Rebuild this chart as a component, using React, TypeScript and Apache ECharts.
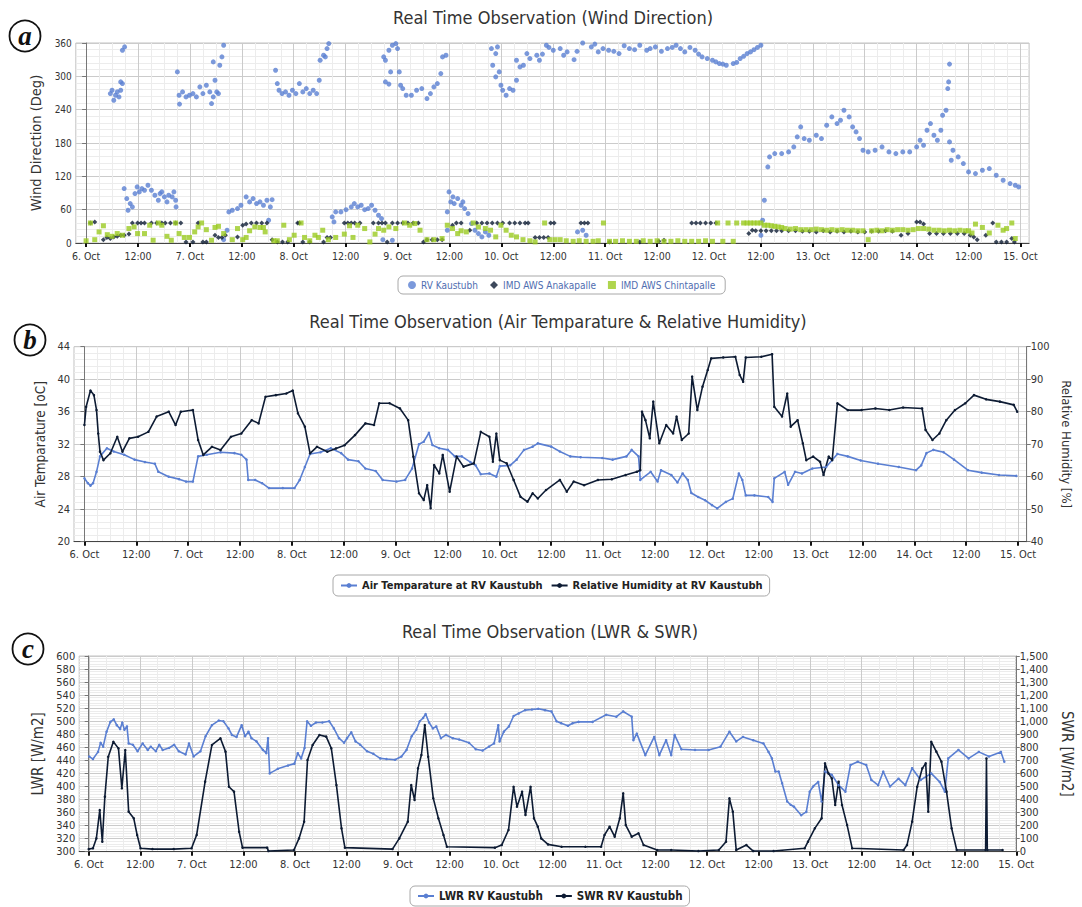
import React, { useEffect, useRef } from "react";
import * as echarts from "echarts";

// ---------- tick labels ----------
const DAY_LABELS = ["6. Oct", "7. Oct", "8. Oct", "9. Oct", "10. Oct", "11. Oct", "12. Oct", "13. Oct", "14. Oct", "15. Oct"];
const NOON_LABEL = "12:00";

// ---------- data: [hours since 6 Oct 00:00, value] ----------
const rvKaustubhWindDir: [number, number][] = [
  [5.6,269],[6,275],[6.4,257],[6.8,266],[7.2,272],[7.6,263],[8,275],[8,290],[8.4,287],[8.4,347],[8.9,353],
  [8.8,98],[9.4,80],[9.7,59],[10.2,71],[10.7,65],[11.3,89],[11.8,101],[12.3,92],[12.9,98],[13.5,95],[14.3,104],[15.1,95],[15.9,86],[16.7,77],[17.1,89],[17.5,92],[18.1,83],[18.7,74],[19.1,86],[19.9,83],[20.3,92],[20.7,77],[20.8,65],
  [21.1,308],[21.5,266],[21.6,250],[22.3,272],[23.1,263],[23.9,266],[24.7,269],[25.5,263],[26.3,281],[27,269],[27.8,284],[28.6,272],[29,251],[29.4,263],[29.8,293],[30.2,272],[30.6,269],[29.4,326],[30.9,320],[31.4,335],[31.8,356],
  [31.8,6],[32.6,23],[33,56],[33.8,59],[35,62],[35.8,68],[37,83],[37.8,74],[38.6,80],[39.4,71],[40.2,74],[41,68],[41.8,77],[42.6,65],[43,78],[42.2,41],
  [43.8,311],[44.2,287],[44.6,275],[45.3,269],[46.1,272],[46.9,266],[47.7,275],[48.5,269],[49.3,287],[50.1,272],[50.9,278],[51.7,269],[52.5,275],[53.3,269],[53.9,293],[54.1,329],[54.9,338],[55.3,335],[55.7,350],[56.1,359],
  [56.9,47],[57.3,38],[57.7,56],[58.9,56],[60.1,60],[61.3,65],[62,71],[62.8,65],[63.6,68],[64.4,60],[65.2,62],[66,68],[66.8,59],[67.6,50],[68.3,44],[68.6,6],[70.8,5],
  [68.8,335],[69.2,329],[70,347],[70.4,308],[70.8,356],[71.6,359],[72,350],[72.4,308],[69.2,290],[70,286],[72.7,284],[73.2,278],[74,266],[75.2,266],[76.4,275],[77.6,278],[78.8,260],[79.6,269],[80.4,281],[81.2,287],[82,305],[82.4,335],[83.2,338],
  [83.5,56],[83.9,92],[84.3,74],[84.8,83],[85.1,71],[85.9,80],[86.7,68],[87.1,74],[87.5,62],[88.3,53],[89.1,35],[89.9,23],[90.7,17],[91.5,11],[92.3,20],[93.1,14],[83.5,23],
  [93.7,350],[94.7,341],[95.1,353],[94,320],[94.7,299],[95.5,308],[95.9,284],[96.3,275],[97.1,266],[97.9,278],[98.7,275],[99.5,293],[99.5,329],[100.3,317],[101.1,320],[101.9,341],[102.6,332],[104.2,338],
  [104.8,329],[105.5,340],[106.4,356],[107,352],[108,347],[109.6,350],[110.4,338],[111.2,344],[112.8,330],[113.5,345],[114.8,360],[116.8,353],[117.6,358],[118.4,344],[119.5,350],[120.8,347],[122,345],[123.2,341],[124.4,355],[125.6,350],[126.8,348],[128,356],[129.6,347],[130.4,350],[131.6,353],[133,345],[134.4,350],[135.5,352],[136.4,356],[137.4,350],[138.4,344],[139.6,352],[140.8,347],[141.6,340],[142.4,335],[143.6,332],[144.8,329],[145.6,326],[146.4,323],[147.2,322],[148,320],[149.6,323],[150.4,325],[151.2,332],[152,336],[152.8,341],[153.6,344],[154.4,348],[155.2,352],[156,356],
  [113.6,20],[114.8,23],[115.6,14],
  [156.8,77],[156.4,41],[156,14],
  [157.6,137],[158,155],[159.2,161],[160.8,161],[162.4,164],[163.6,173],[164.4,191],[165.2,209],[166,188],[167.2,185],[168.8,194],[170,188],[171.2,212],[172.4,227],[173.6,215],[174.4,221],[175.2,239],[176.4,227],[177.2,209],[178,200],[178.8,188],[179.6,167],[180.8,164],[182.4,167],[184,173],[185.6,164],[187.2,161],[188.8,164],[190.4,164],[192,173],[192.8,185],[193.6,176],[194.4,203],[195.2,215],[196,194],[196.8,185],[197.6,203],[198,230],[198.8,239],[199.2,278],[199.4,290],[199.6,322],[199.6,182],[200,149],[200.4,167],[201.6,155],[202.8,143],[204,128],[205.6,125],[207.2,131],[208.8,134],[210.4,122],[212,113],[213.6,107],[214.8,104],[215.6,101],
];

const anakapalleWindDir: [number, number][] = [
  [1,36],[2,38],[4,6],[4.8,10],[5.6,8],[6.4,11],[7.2,12],[8,14],[8.8,14],[9.9,16],[10.7,36],[11.9,36],[12.7,36],[13.5,36],[15.1,36],[16.3,36],[17.5,36],[18.3,36],[19.5,36],[20.7,36],[21.9,36],
  [23.1,2],[24.7,2],[25.9,36],[27,2],[27.8,2],[29.8,14],[30.6,10],[31.4,10],[32.2,14],[35,11],[36.2,32],[37,34],[38.2,36],[39.4,36],[40.6,36],[41.8,36],[43,6],[44.2,2],[45.4,2],[46.6,2],
  [48.9,36],[49.3,36],[50.1,2],[51.7,2],[54.9,2],[55.7,10],[56.5,10],[59.7,36],[60.5,36],[61.3,36],[62.1,36],[63.3,36],[66.4,36],[67.6,36],[68.4,36],[69.2,36],[69.6,2],[70.8,36],[72,36],[73.2,36],[74.4,36],[75.6,36],[76.8,36],
  [78,2],[78.8,6],[80,6],[81.2,6],[82.3,6],[84.7,32],[85.6,36],[86.7,36],[88.7,23],[90.3,36],[91.5,36],[92.7,36],[93.9,36],[95.1,36],[96.3,36],[97.9,36],[99.1,36],[100.3,36],[101.5,36],[102.2,36],
  [103.8,10],[104.8,10],[105.8,10],[106.8,10],[107.4,36],[108.2,36],[114.4,36],[115.2,36],[116,36],[121,2],[128,2],[132.4,3],[133.6,5],
  [140,36],[141,36],[142,36],[143.2,36],[144.4,36],[145.6,36],[153.2,17],[154,23],[154.8,22],[156,22],[157.2,22],[158.4,22],[159.6,22],[160.8,22],[162.4,22],[164,22],[165.6,21],[167.2,21],[168.8,20],[170.4,22],[172,20],[173.6,21],[175.2,20],[176.8,21],[178.4,20],[180,20],[181.6,21],[183.2,21],[184.8,22],[186.4,21],[188.4,14],[190,17],
  [192,38],[192.8,38],[193.6,34],[195,17],[196.6,17],[198.2,17],[199.8,17],[201.4,17],[203,17],[204.4,14],[205.2,11],[206,6],[208,14],[209.6,36],[210.4,2],[211.6,2],[212.8,2],[214,8],[214.6,2],
];

const chintapalleWindDir: [number, number][] = [
  [0,4],[1,36],[2,6],[3,20],[4,31],[4.9,15],[6,12],[7.2,17],[8.4,14],[9.9,26],[11.1,29],[11.9,17],[13.5,17],[14.7,32],[15.5,5],[16.7,36],[17.5,32],[18.7,12],[19.7,5],[20.7,36],[21.5,17],[22.7,10],[23.9,10],
  [25.1,20],[25.9,29],[26.7,36],[27.8,24],[29,5],[29.8,28],[30.6,30],[31.8,17],[33.8,6],[35,26],[36.2,6],[37,10],[37.8,22],[39,29],[40.2,28],[41,28],[41.4,20],[43.4,4],[44.2,4],[45.7,32],[47,6],
  [48.1,14],[49.7,36],[50.5,10],[51.7,4],[52.9,14],[53.7,10],[54.7,23],[56,6],[57.7,10],[59.7,16],[60.9,31],[61.7,10],[62.8,32],[64.4,26],[65.6,2],[66.8,16],[67.6,26],[68.8,23],[70,29],[71.6,26],
  [73.6,36],[74.8,32],[76,35],[77.2,23],[78.8,6],[80.4,6],[82.3,8],[83.5,32],[84.7,26],[85.9,17],[86.7,22],[87.9,20],[89.5,36],[90.7,29],[92.3,26],[93.5,23],[94.7,11],[95.9,32],[97.1,23],[98.3,14],[99.5,11],[101,6],[102.6,4],[103.8,2],
  [106,36],[107.2,6],[108.4,6],[109.6,6],[111,4],[112.6,3],[114,4],[115.6,3],[117.2,3],[118.4,4],[119.6,36],[121,3],[122.4,3],[124,4],[125.6,3],[127.2,3],[128.8,4],[130.4,3],[132,4],[133.6,3],[135.2,3],[136.8,4],[138.4,3],[140,3],[141.6,3],[143.2,4],[144.8,3],
  [146,36],[147.2,3],[148.4,36],[149.6,3],[150.4,36],[152,36],[152.8,36],[153.6,36],[154.4,36],[155.2,36],[156,36],[156.8,32],[157.6,32],[158.4,31],[159.2,30],[160,29],[160.8,28],[161.6,26],[162.8,25],[164,26],[165.2,24],[166.4,24],[167.6,24],[168.8,25],[170,24],[171.2,23],[172.4,24],[173.6,23],[174.8,24],[176,23],[177.2,23],[178.4,22],[179.6,22],
  [180.8,6],[181.6,22],[182.8,23],[184,22],[185.2,24],[186.4,23],[187.6,24],[188.8,24],[190,23],[191.2,24],[192.4,26],[193.6,26],[194.8,25],[196,23],[197.2,23],[198.4,22],[199.6,23],[200.8,22],[202,23],[203.2,22],[204,22],[204.8,18],[205.6,34],[207.2,28],[208.8,18],[210.8,32],[212,23],[212.8,26],[214,36],[214.8,8],
];

const airTemperature: [number, number][] = [
  [0,27.8],[0.8,27.2],[1.4,26.9],[2,27.2],[2.8,28.6],[3.6,30.5],[5.2,31.5],[6.8,31.1],[9.2,30.7],[11.6,30.1],[14,29.8],[16.3,29.6],[17.1,28.6],[19.5,28],[21.9,27.7],[23.5,27.4],[25.1,27.4],[26.3,30.5],[28.3,30.7],[31.5,31],[34.7,30.9],[36.3,30.7],[37.5,30.1],[37.9,27.6],[39.5,27.6],[41.1,27.2],[42.7,26.6],[45.9,26.6],[48.6,26.6],
  [49.8,27.6],[51,29.2],[52.2,30.8],[54.6,31],[57,31.5],[59.4,30.9],[61,30.1],[63.4,29.9],[65,29],[67.4,28.7],[69,27.6],[72.2,27.4],[74.2,27.6],[75.8,29],[77.4,32],[78.5,32.3],[79.7,33.4],[80.5,31.9],[82.1,31.5],[84.1,31.3],[85.7,30.5],[87.3,30.5],[89.3,29.8],[90.5,29.4],[91.7,28.3],[93.7,28.4],[95.3,28],[96.1,29.3],
  [98.5,29.4],[100,30.1],[101.7,31.3],[103.7,31.7],[104.9,32.1],[108,31.7],[110,31.1],[112.4,30.5],[114.8,30.4],[119.8,30.3],[122.2,30.1],[125.4,30.5],[126.6,31.3],[128.2,30.5],[128.6,27.6],[131,28.6],[132.6,27.4],[133.4,28.8],[135.8,28.2],[137.2,27.3],[138.4,28.4],[139.6,27.6],[140.4,26],[142,25.5],[143.6,25.1],[145.2,24.5],[146.4,24.1],
  [148.4,24.9],[150,25.3],[151.4,28.4],[152.2,27.6],[153,25.7],[155,25.7],[158.2,25.5],[159.2,24.9],[159.6,27.8],[162,28.6],[162.8,27],[164.4,28.6],[166,28.4],[168.4,29],[171.6,29.2],[174.2,30.8],[176.6,30.5],[179.6,30],[183.6,29.6],[188.4,29.2],[192.4,28.8],[193.6,29.4],[194.8,30.9],[196.4,31.3],[198.8,31],[201.2,30.1],[204.4,28.8],[207.6,28.5],[211.6,28.2],[215.6,28.1],
];

const relativeHumidity: [number, number][] = [
  [0,75.9],[0.4,81.5],[1.4,86.5],[2.2,85.1],[2.8,80.5],[3.2,73.3],[3.6,67.7],[4.4,65.1],[6,67.2],[7.6,72.3],[8.8,67.7],[10.4,71.8],[12.4,72.3],[14.8,73.8],[16.7,78.5],[19.5,80],[21.1,75.9],[22.3,80],[25.1,80.5],[26.3,71.3],[27.5,66.7],[29.5,69.2],[31.5,68.2],[33.9,72.3],[36.3,73.3],[38.7,77.4],[40.3,76.4],[41.9,84.6],[44.3,85.1],[46.7,85.6],[48.2,86.5],
  [49.4,79.5],[51,75.4],[52.2,67.2],[53.8,69.2],[56.2,67.7],[58.2,68.7],[60.2,69.7],[62.6,72.8],[65,76.4],[67,75.9],[68.2,82.6],[70.6,82.6],[73,81],[74.9,77.4],[76.1,66.2],[77.4,54.9],[78.5,52.8],[79.3,57.4],[80.1,50.3],[80.9,63.6],[82.1,61],[82.9,66.7],[84.5,55.4],[86.1,66.2],[87.7,63.1],[90.1,64.1],[91.7,73.8],[93.7,72.3],[94.5,64.6],[95.3,73.3],[96.1,65.1],
  [97.7,64.1],[99.3,59],[100.9,53.8],[102.5,52.3],[103.7,54.9],[104.9,53.3],[106.8,55.9],[110,59],[111.6,55.4],[113.2,58.5],[115.6,57.4],[118.8,59],[122,59.2],[125.2,60.5],[127.8,61.5],[128.6,62],[129,80],[129.8,77.4],[130.8,71.8],[131.6,83.1],[133,70.3],[134.6,75.9],[136.2,73.3],[137,78.5],[138.2,71.3],[139.8,73.3],[140.6,90.8],[141.8,80.5],[143,87.7],[144.2,92.8],[145,96.4],
  [147.8,96.7],[150.6,96.9],[151.6,91.3],[152.4,89.2],[153,96.7],[156.6,96.9],[159.1,97.7],[159.6,81.5],[161.4,78.5],[162.6,85.6],[163.4,75.4],[165,77.4],[166.2,70.3],[167,65.1],[168.6,66.2],[170.2,64.6],[171,60.5],[172.2,66.2],[173,65.1],[174.2,82.6],[176.6,80.5],[179.8,80.5],[183,81],[186.2,80.5],[189.4,81.3],[193.8,81],[194.6,74.4],[196.2,71.3],[197.8,73.3],[199.4,77.4],[201.4,80.5],[203.8,82.6],[205.8,85.1],[208.6,83.8],[211.8,83.1],[215,82.1],[215.8,80],
];

const lwrKaustubh: [number, number][] = [
  [0.1,446],[1,442],[2.2,453],[2.8,467],[3.4,461],[4.2,484],[5.1,499],[5.9,503],[6.6,494],[7.4,488],[7.9,498],[8.4,487],[9,492],[9.4,466],[10.4,464],[11.5,454],[12.7,466],[13.9,456],[14.6,461],[15.8,454],[16.6,464],[17.4,456],[18.9,459],[20.1,464],[21.2,454],[22.8,449],[23.6,466],[24.7,446],[26.3,454],
  [27.5,477],[29,494],[30.6,501],[31.7,500],[32.9,489],[33.7,479],[34.8,476],[36,494],[36.8,477],[37.6,484],[38.3,474],[39.5,469],[41,456],[41.8,451],[42.2,474],[42.6,420],[44.5,427],[46.9,432],[48.4,435],[49.2,451],[50,443],[50.8,459],[51.4,500],[52.3,493],[53.5,498],[55,498],[56.6,500],
  [57.7,489],[58.9,474],[60.1,467],[60.8,474],[61.8,483],[62.8,469],[63.9,464],[65.5,454],[67,450],[68.6,443],[70.1,442],[72.1,441],[73.6,446],[74.8,456],[76,477],[77.1,487],[77.9,500],[78.7,505],[79.3,511],[80.1,498],[81,489],[81.8,492],[82.9,474],[84.1,479],[85.7,474],[87.2,472],[89.5,467],[91.1,457],[92.7,455],[94.2,461],[95.4,466],[96.4,494],[96.7,469],
  [97.7,484],[98.9,492],[100,508],[101.2,512],[102.7,517],[104.3,518],[105.8,519],[107.4,517],[108.9,515],[110.1,500],[111.2,497],[112.8,493],[113.9,497],[115.3,499],[118.6,499],[121.8,510],[124.2,507],[125.8,515],[127.8,507],[128.2,471],[129,481],[131,448],[133.1,476],[134.3,448],[135.9,471],[137.1,448],[137.9,479],[139.5,457],[142.7,456],[145.9,456],[148.7,461],[150.8,484],[152.4,469],[154,476],[156.4,471],[158.8,466],
  [160,453],[160.8,443],[161.6,423],[162.4,423],[163.2,405],[164.4,377],[165.2,372],[166,369],[167.7,356],[168.9,361],[169.7,392],[170.5,400],[171.7,407],[172.5,377],[173.3,423],[174.9,418],[176.5,402],[178.1,392],[179.3,433],[181,438],[183,433],[184.2,410],[185.8,402],[187,423],[188.6,400],[190.6,412],[192.2,402],[193.8,428],[195.8,410],[198.3,420],[200.3,407],[201.5,392],[202.3,443],[204.7,456],[207.1,443],[209.5,453],[211.9,446],[214.7,453],[215.5,438],
];

const swrKaustubh: [number, number][] = [
  [0,20],[1,26],[1.8,102],[2.6,319],[3.2,77],[3.8,422],[4.6,728],[5.8,843],[7,792],[7.8,486],[8.6,779],[9.4,307],[10.6,256],[11.4,128],[12.2,26],[15,20],[20,20],[24.2,26],[25.4,128],[27.4,537],[29,818],[31,869],[32.2,767],[33,498],[34.2,460],[35.4,153],[36.2,31],[42,31],[42.3,5],
  [48.3,13],[49.5,102],[50.7,230],[51.5,703],[52.7,818],[54.3,894],[55.9,882],[57.1,792],[58.3,511],[59.5,179],[60.3,31],[71.5,20],[73.1,102],[75.1,230],[75.9,511],[76.7,396],[77.5,639],[78.3,741],[79.1,971],[79.9,728],[81.1,409],[82.3,256],[83.5,128],[84.3,38],
  [95.6,31],[97.2,51],[98.8,166],[100,498],[100.8,345],[102,460],[102.8,281],[104,498],[104.8,256],[105.7,192],[106.5,102],[108.1,56],[111.3,38],[116.9,38],[120.6,38],[121.4,128],[122.6,192],[123.8,115],[125,256],[125.8,447],[126.4,204],[127.8,115],[129.4,141],[130.6,51],[133.8,13],[137.1,13],[143.5,5],
  [148.3,13],[150,77],[150.8,409],[151.6,307],[152.4,13],[154.8,51],[156.4,5],[161.2,5],[168.5,26],[169.3,77],[170.9,179],[172.5,256],[173.3,677],[174.1,600],[174.9,562],[175.7,358],[176.5,537],[177.3,358],[178.5,204],[179.7,26],
  [191.8,13],[192.6,51],[193.8,230],[195,498],[196.2,639],[197,677],[197.6,307],[198.3,843],[199.5,767],[200.7,690],[201.9,460],[203.1,179],[204.3,13],[211.1,13],[211.3,715],[211.5,13],[215.1,13],
];

// ---------- style ----------
const BLUE = "#5a7fd2";
const NAVY = "#0d1b33";
const GREEN = "#9bcb22";
const FONT = '"DejaVu Sans Condensed", "Liberation Sans Narrow", "DejaVu Sans", sans-serif';
const MAJOR = "#cbcbcb";
const MINOR = "#ececec";

type Panel = { L: number; T: number; W: number; H: number; xmin: number; xmax: number; vMinor: number; xLabelSize: number };
const PANELS: Panel[] = [
  { L: 75.8, T: 43, W: 953.3, H: 200, xmin: -2.38, xmax: 218.0, vMinor: 4, xLabelSize: 10.5 },
  { L: 74, T: 346.7, W: 952.7, H: 195, xmin: -2.41, xmax: 218.0, vMinor: 4, xLabelSize: 11 },
  { L: 79.2, T: 656, W: 946.5, H: 195.7, xmin: -2.24, xmax: 218.2, vMinor: 3, xLabelSize: 11 },
];

const hourLabel = (v: number) => (v % 24 === 0 ? DAY_LABELS[v / 24] : NOON_LABEL);

function buildOption() {
  const grid: any[] = [];
  const xAxis: any[] = [];
  PANELS.forEach((p, i) => {
    const span = p.xmax - p.xmin;
    grid.push({ left: p.L, top: p.T, width: p.W, height: p.H, show: true, borderColor: "#c2c2c2", borderWidth: 1, backgroundColor: "transparent" });
    grid.push({ left: p.L + ((0 - p.xmin) / span) * p.W, top: p.T, width: (216 / span) * p.W, height: p.H, show: false });
    xAxis.push({
      type: "value", gridIndex: 2 * i, min: p.xmin, max: p.xmax,
      axisLine: { show: true, onZero: false, lineStyle: { color: "#444", width: 1 } },
      axisTick: { show: false }, axisLabel: { show: false }, splitLine: { show: false },
    });
    xAxis.push({
      type: "value", gridIndex: 2 * i + 1, min: 0, max: 216, interval: 12,
      axisLine: { show: false },
      axisTick: { show: true, length: 4, lineStyle: { color: "#111", width: 2 } },
      axisLabel: { formatter: hourLabel, fontSize: p.xLabelSize, color: "#333", margin: 7, fontFamily: FONT, showMinLabel: true, showMaxLabel: true },
      splitLine: { show: true, lineStyle: { color: MAJOR, width: 1 } },
      minorTick: { show: false, splitNumber: p.vMinor },
      minorSplitLine: { show: true, lineStyle: { color: MINOR, width: 1 } },
    });
  });

  const leftY = (gridIndex: number, min: number, max: number, interval: number, name: string, nameGap: number, fontSize: number, nameSize: number) => ({
    type: "value", gridIndex, min, max, interval, position: "left",
    axisLine: { show: true, lineStyle: { color: "#777" } },
    axisTick: { show: true, length: 4, lineStyle: { color: "#777" } },
    axisLabel: { fontSize, color: "#333", margin: 4, fontFamily: FONT },
    splitLine: { show: true, lineStyle: { color: MAJOR, width: 1 } },
    minorTick: { show: false, splitNumber: 5 },
    minorSplitLine: { show: true, lineStyle: { color: MINOR, width: 1 } },
    name, nameLocation: "middle", nameGap,
    nameTextStyle: { fontSize: nameSize, color: "#333", fontFamily: FONT },
  });
  const rightY = (gridIndex: number, min: number, max: number, interval: number, name: string, nameGap: number, nameSize: number, fmt?: (v: number) => string) => ({
    type: "value", gridIndex, min, max, interval, position: "right",
    axisLine: { show: true, lineStyle: { color: "#777" } },
    axisTick: { show: true, length: 4, lineStyle: { color: "#777" } },
    axisLabel: { fontSize: 11, color: "#333", margin: 4, fontFamily: FONT, formatter: fmt },
    splitLine: { show: false },
    name, nameLocation: "middle", nameGap, nameRotate: -90,
    nameTextStyle: { fontSize: nameSize, color: "#333", fontFamily: FONT },
  });
  const hiddenY = (gridIndex: number) => ({ type: "value", gridIndex, min: 0, max: 1, show: false });

  const yAxis: any[] = [
    leftY(0, 0, 360, 60, "Wind Direction (Deg)", 26, 10, 14.5), // 0
    hiddenY(1), // 1
    leftY(2, 20, 44, 4, "Air Temparature [oC]", 20, 11, 13.5), // 2
    rightY(2, 40, 100, 10, "Relative Humidity [%]", 30, 13), // 3
    hiddenY(3), // 4
    leftY(4, 300, 600, 20, "LWR [W/m2]", 30, 11, 15), // 5
    rightY(4, 0, 1500, 100, "SWR [W/m2]", 41, 15, (v: number) => v.toLocaleString("en-US")), // 6
    hiddenY(5), // 7
  ];

  const scatter = (name: string, data: [number, number][], color: string, symbol: string, size: number) => ({
    type: "scatter", name, data, xAxisIndex: 0, yAxisIndex: 0, symbol, symbolSize: size,
    itemStyle: { color }, clip: true,
  });
  const line = (name: string, data: [number, number][], color: string, xi: number, yi: number) => ({
    type: "line", name, data, xAxisIndex: xi, yAxisIndex: yi, showSymbol: true, symbol: "circle", symbolSize: 2.5,
    lineStyle: { color, width: 1.6 }, itemStyle: { color }, clip: true,
  });

  const series = [
    scatter("RV Kaustubh", rvKaustubhWindDir, BLUE, "circle", 5),
    scatter("IMD AWS Anakapalle", anakapalleWindDir, NAVY, "diamond", 5),
    scatter("IMD AWS Chintapalle", chintapalleWindDir, GREEN, "rect", 5),
    line("Air Temparature at RV Kaustubh", airTemperature, BLUE, 2, 2),
    line("Relative Humidity at RV Kaustubh", relativeHumidity, NAVY, 2, 3),
    line("LWR RV Kaustubh", lwrKaustubh, BLUE, 4, 5),
    line("SWR RV Kaustubh", swrKaustubh, NAVY, 4, 6),
  ];

  const legendBase = {
    orient: "horizontal", borderColor: "#a8a8a8", borderWidth: 1, borderRadius: 5, backgroundColor: "#fff",
  };
  const legend = [
    { ...legendBase, data: ["RV Kaustubh", "IMD AWS Anakapalle", "IMD AWS Chintapalle"], left: 398, top: 276, padding: [4, 10], itemGap: 12, itemWidth: 8, itemHeight: 8,
      textStyle: { fontSize: 10, color: "#4f6db0", fontFamily: FONT } },
    { ...legendBase, data: ["Air Temparature at RV Kaustubh", "Relative Humidity at RV Kaustubh"], left: 333, top: 575, padding: [5, 7], itemGap: 8, itemWidth: 16, itemHeight: 6,
      textStyle: { fontSize: 11, fontWeight: "bold", color: "#222", fontFamily: FONT } },
    { ...legendBase, data: ["LWR RV Kaustubh", "SWR RV Kaustubh"], left: 410, top: 886, padding: [4, 7], itemGap: 12, itemWidth: 16, itemHeight: 6,
      textStyle: { fontSize: 11.5, fontWeight: "bold", color: "#222", fontFamily: FONT } },
  ];

  const titleText = (text: string, cx: number, cy: number) => ({
    type: "text", x: cx, y: cy, silent: true,
    style: { text, fill: "#333", font: `18px ${FONT}`, textAlign: "center", textVerticalAlign: "middle", align: "center", verticalAlign: "middle" },
  });
  const letter = (ch: string, cx: number, cy: number) => [
    { type: "circle", shape: { cx, cy, r: 15.5 }, style: { fill: "#fff", stroke: "#111", lineWidth: 1.8 }, silent: true },
    { type: "text", x: cx, y: cy, silent: true,
      style: { text: ch, fill: "#111", font: 'italic bold 27px "Liberation Serif", "DejaVu Serif", serif', textAlign: "center", textVerticalAlign: "middle", align: "center", verticalAlign: "middle" } },
  ];

  return {
    animation: false,
    backgroundColor: "#fff",
    textStyle: { fontFamily: FONT },
    grid, xAxis, yAxis, series, legend,
    graphic: [
      titleText("Real Time Observation (Wind Direction)", 553, 17),
      titleText("Real Time Observation (Air Temparature & Relative Humidity)", 558, 321),
      titleText("Real Time Observation (LWR & SWR)", 550, 631),
      ...letter("a", 25, 36),
      ...letter("b", 30, 340),
      ...letter("c", 28, 649),
    ],
  };
}

export default function App() {
  const ref = useRef<HTMLDivElement>(null);
  useEffect(() => {
    document.body.style.margin = "0";
    if (!ref.current) return;
    const chart = echarts.init(ref.current, null, { renderer: "svg" });
    chart.setOption(buildOption() as any);
    return () => chart.dispose();
  }, []);
  return <div ref={ref} style={{ width: 1082, height: 907 }} />;
}
